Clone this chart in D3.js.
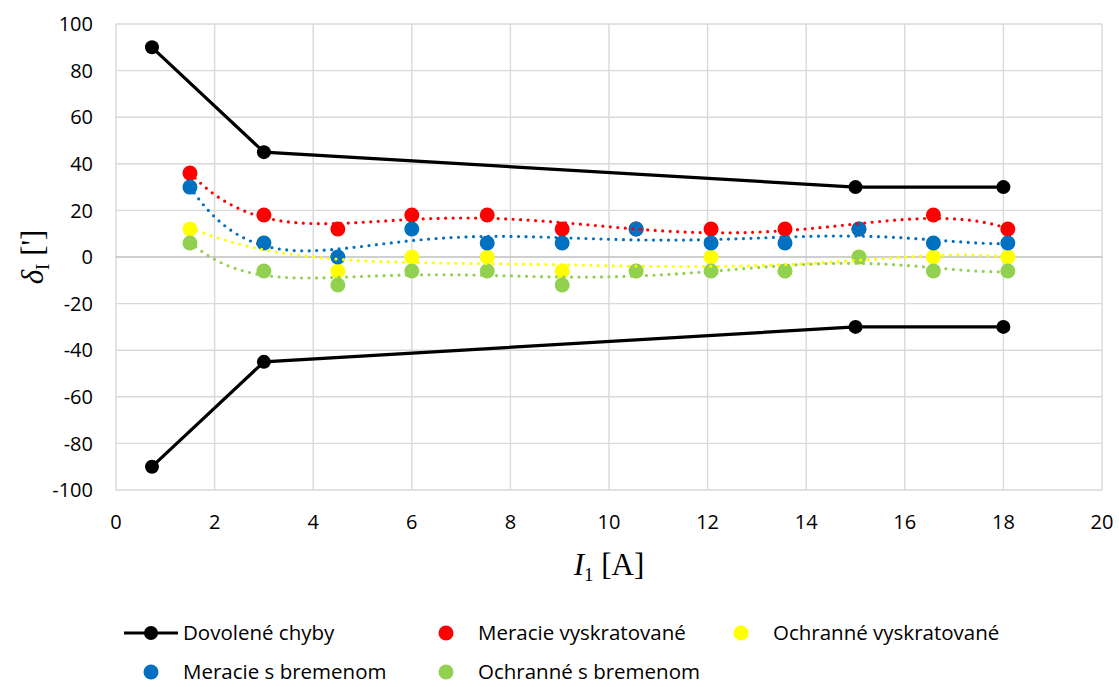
<!DOCTYPE html>
<html>
<head>
<meta charset="utf-8">
<script src="https://cdn.jsdelivr.net/npm/d3@7"></script>
<style>
  body { margin: 0; background: #fff; }
  svg text { font-family: "Open Sans", "Liberation Sans", sans-serif; fill: #000; }
</style>
</head>
<body>
<svg id="chart" width="1119" height="687"></svg>
<script>
// measurement currents I1 [A]
const currents = [1.5, 3, 4.5, 6, 7.53, 9.05, 10.55, 12.07, 13.57, 15.07, 16.58, 18.09];
const meracieVysk = [36, 18, 12, 18, 18, 12, 12, 12, 12, 12, 18, 12];
const ochranneVysk = [12, 6, -6, 0, 0, -6, -6, 0, -6, 0, 0, 0];
const meracieBrem = [30, 6, 0, 12, 6, 6, 12, 6, 6, 12, 6, 6];
const ochranneBrem = [6, -6, -12, -6, -6, -12, -6, -6, -6, 0, -6, -6];

// permitted error limits
const limitCurrents = [0.73, 3, 15, 18];
const limitUpper = [90, 45, 30, 30];
const limitLower = [-90, -45, -30, -30];

const xTicks = [0, 2, 4, 6, 8, 10, 12, 14, 16, 18, 20];
const yTicks = [-100, -80, -60, -40, -20, 0, 20, 40, 60, 80, 100];

const series = [
    { name: "Meracie vyskratované", values: meracieVysk, color: "#ff0000" },
    { name: "Ochranné vyskratované", values: ochranneVysk, color: "#ffff00" },
    { name: "Meracie s bremenom", values: meracieBrem, color: "#0070c0" },
    { name: "Ochranné s bremenom", values: ochranneBrem, color: "#92d050" }
];

const svg = d3.select("#chart");
const plotLeft = 116, plotRight = 1102, plotTop = 24, plotBottom = 490;

const x = d3.scaleLinear().domain([0, 20]).range([plotLeft, plotRight]);
const y = d3.scaleLinear().domain([-100, 100]).range([plotBottom, plotTop]);

// polynomial least squares (like an Excel trendline, order 6)
function polyFit(xs, ys, order) {
    const mx = d3.mean(xs), sx = 10;
    const n = order + 1;
    const A = Array.from({ length: n }, () => new Array(n + 1).fill(0));
    xs.forEach((xv, k) => {
        const t = (xv - mx) / sx;
        const p = [];
        for (let i = 0; i < n; i++) p.push(Math.pow(t, i));
        for (let i = 0; i < n; i++) {
            for (let j = 0; j < n; j++) A[i][j] += p[i] * p[j];
            A[i][n] += p[i] * ys[k];
        }
    });
    for (let c = 0; c < n; c++) {
        let piv = c;
        for (let r = c + 1; r < n; r++) if (Math.abs(A[r][c]) > Math.abs(A[piv][c])) piv = r;
        [A[c], A[piv]] = [A[piv], A[c]];
        for (let r = 0; r < n; r++) {
            if (r === c) continue;
            const f = A[r][c] / A[c][c];
            for (let j = c; j <= n; j++) A[r][j] -= f * A[c][j];
        }
    }
    const coef = A.map((row, i) => row[n] / row[i]);
    return xv => {
        const t = (xv - mx) / sx;
        return coef.reduce((s, c, i) => s + c * Math.pow(t, i), 0);
    };
}

// grid
svg.append("g").selectAll("line").data(xTicks).enter().append("line")
    .attr("x1", d => x(d)).attr("x2", d => x(d))
    .attr("y1", plotTop).attr("y2", plotBottom)
    .style("stroke", "#d9d9d9").style("stroke-width", 1.4);

svg.append("g").selectAll("line").data(yTicks).enter().append("line")
    .attr("x1", plotLeft).attr("x2", plotRight)
    .attr("y1", d => y(d)).attr("y2", d => y(d))
    .style("stroke", d => d === 0 ? "#bfbfbf" : "#d9d9d9")
    .style("stroke-width", 1.4);

// tick labels
svg.append("g").selectAll("text").data(yTicks).enter().append("text")
    .attr("x", 93).attr("y", d => y(d)).attr("dy", "0.36em")
    .attr("text-anchor", "end").style("font-size", "20px")
    .text(d => d);

svg.append("g").selectAll("text").data(xTicks).enter().append("text")
    .attr("x", d => x(d)).attr("y", 522).attr("dy", "0.36em")
    .attr("text-anchor", "middle").style("font-size", "20px")
    .text(d => d);

// axis titles
const xt = svg.append("text").attr("x", 609).attr("y", 575)
    .attr("text-anchor", "middle")
    .style("font-family", "'Liberation Serif', 'Times New Roman', serif")
    .style("font-size", "31px");
xt.append("tspan").style("font-style", "italic").text("I");
xt.append("tspan").attr("dy", 6).style("font-size", "19px").text("1");
xt.append("tspan").attr("dy", -6).text(" [A]");

const yt = svg.append("text")
    .attr("transform", "translate(43,257) rotate(-90)")
    .attr("text-anchor", "middle")
    .style("font-family", "'Liberation Serif', 'Times New Roman', serif")
    .style("font-size", "31px");
yt.append("tspan").style("font-style", "italic").text("δ");
yt.append("tspan").attr("dy", 6).style("font-size", "19px").text("I");
yt.append("tspan").attr("dy", -6).text(" [']");

// permitted limits
const line = d3.line().x(d => x(d[0])).y(d => y(d[1]));
[limitUpper, limitLower].forEach(vals => {
    const pts = limitCurrents.map((c, i) => [c, vals[i]]);
    svg.append("path").datum(pts).attr("d", line)
        .style("fill", "none").style("stroke", "#000").style("stroke-width", 3.2);
    svg.append("g").selectAll("circle").data(pts).enter().append("circle")
        .attr("cx", d => x(d[0])).attr("cy", d => y(d[1])).attr("r", 7)
        .style("fill", "#000");
});

// measured series: markers and dotted trendlines
series.forEach(s => {
    const pts = currents.map((c, i) => [c, s.values[i]]);
    svg.append("g").selectAll("circle").data(pts).enter().append("circle")
        .attr("cx", d => x(d[0])).attr("cy", d => y(d[1])).attr("r", 7.5)
        .style("fill", s.color);
});
series.forEach(s => {
    const f = polyFit(currents, s.values, 6);
    const xs = d3.range(d3.min(currents), d3.max(currents) + 0.001, 0.05);
    svg.append("path").datum(xs.map(c => [c, f(c)])).attr("d", line)
        .style("fill", "none").style("stroke", s.color)
        .style("stroke-width", 3.2).style("stroke-linecap", "round")
        .style("stroke-dasharray", "0 7.5");
});

// legend
const lg = svg.append("g");
lg.append("line").attr("x1", 124).attr("x2", 178).attr("y1", 633).attr("y2", 633)
    .style("stroke", "#000").style("stroke-width", 3.2);
lg.append("circle").attr("cx", 151).attr("cy", 633).attr("r", 7).style("fill", "#000");
lg.append("text").attr("x", 183).attr("y", 633).attr("dy", "0.36em")
    .style("font-size", "20.5px").text("Dovolené chyby");

const legendPos = [[446, 633], [741, 633], [151, 672], [446, 672]];
series.forEach((s, i) => {
    const [lx, ly] = legendPos[i];
    lg.append("circle").attr("cx", lx).attr("cy", ly).attr("r", 7.5).style("fill", s.color);
    lg.append("text").attr("x", lx + 32).attr("y", ly).attr("dy", "0.36em")
        .style("font-size", "20.5px").text(s.name);
});
</script>
</body>
</html>
